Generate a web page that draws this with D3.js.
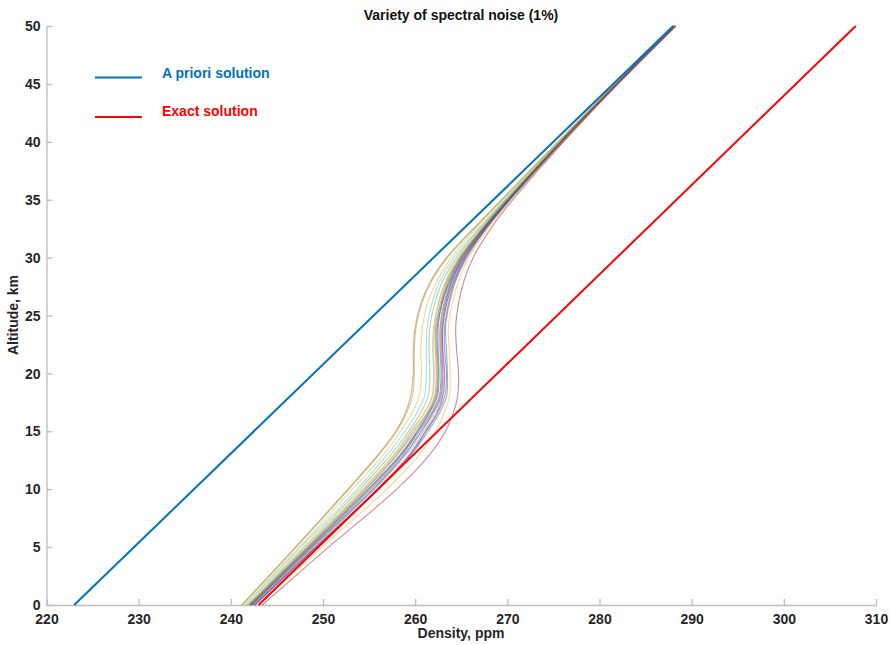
<!DOCTYPE html>
<html>
<head>
<meta charset="utf-8">
<script src="https://cdn.jsdelivr.net/npm/d3@7"></script>
<style>
  body { margin: 0; background: #fff; }
  svg { display: block; font-family: "Liberation Sans", Arial, sans-serif; }
</style>
</head>
<body>
<svg width="890" height="645"></svg>
<script>
// altitude grid (km) shared by the noisy retrievals
var altitudes = [0, 5, 10, 13, 15, 16.5, 18, 20, 22, 24, 26, 28, 30, 32.5, 35, 40, 45, 50];

// retrieved profiles, one per noise realisation (ppm)
var noiseRuns = [
  [241.2, 247.0, 252.7, 256.0, 257.9, 258.9, 259.5, 259.8, 259.8, 260.0, 260.6, 261.7, 263.4, 266.3, 269.4, 275.5, 281.7, 288.0],
  [241.2, 247.1, 252.8, 256.1, 258.0, 259.0, 259.7, 259.9, 259.9, 260.1, 260.7, 261.8, 263.5, 266.4, 269.4, 275.5, 281.7, 288.0],
  [241.4, 247.4, 253.2, 256.6, 258.4, 259.6, 260.4, 260.7, 260.6, 260.8, 261.3, 262.4, 263.9, 266.6, 269.6, 275.6, 281.8, 288.1],
  [241.6, 247.6, 253.7, 257.0, 258.9, 260.1, 261.0, 261.2, 261.2, 261.3, 261.8, 262.7, 264.2, 266.9, 269.8, 275.7, 281.8, 288.1],
  [241.8, 247.9, 254.0, 257.4, 259.3, 260.5, 261.4, 261.6, 261.5, 261.6, 262.1, 263.0, 264.5, 267.0, 269.8, 275.7, 281.8, 288.1],
  [241.9, 248.2, 254.4, 257.8, 259.6, 260.9, 261.8, 262.0, 261.9, 262.0, 262.5, 263.3, 264.7, 267.2, 269.9, 275.8, 281.8, 288.1],
  [241.9, 248.1, 254.3, 257.7, 259.5, 260.9, 261.9, 262.1, 262.0, 262.1, 262.5, 263.4, 264.8, 267.2, 270.0, 275.8, 281.8, 288.1],
  [242.0, 248.3, 254.6, 258.0, 259.8, 261.2, 262.1, 262.3, 262.2, 262.2, 262.7, 263.5, 264.9, 267.3, 270.0, 275.8, 281.9, 288.2],
  [242.0, 248.4, 254.7, 258.1, 260.0, 261.3, 262.2, 262.4, 262.3, 262.3, 262.8, 263.6, 264.9, 267.3, 270.0, 275.8, 281.9, 288.2],
  [242.1, 248.5, 254.9, 258.4, 260.2, 261.4, 262.3, 262.5, 262.4, 262.4, 262.9, 263.7, 265.0, 267.4, 270.1, 275.8, 281.9, 288.2],
  [242.2, 248.6, 255.0, 258.5, 260.3, 261.5, 262.4, 262.6, 262.5, 262.5, 262.9, 263.8, 265.1, 267.4, 270.1, 275.8, 281.9, 288.2],
  [242.2, 248.7, 255.2, 258.6, 260.4, 261.7, 262.6, 262.8, 262.7, 262.7, 263.1, 263.9, 265.2, 267.5, 270.1, 275.9, 281.9, 288.2],
  [242.3, 248.8, 255.4, 258.8, 260.6, 261.8, 262.7, 262.9, 262.8, 262.8, 263.2, 264.0, 265.2, 267.5, 270.2, 275.9, 281.9, 288.2],
  [242.3, 248.9, 255.5, 258.9, 260.7, 261.9, 262.8, 263.0, 262.9, 262.9, 263.3, 264.0, 265.3, 267.5, 270.2, 275.9, 281.9, 288.2],
  [242.4, 249.0, 255.6, 259.1, 260.9, 262.1, 262.9, 263.1, 263.0, 263.0, 263.4, 264.1, 265.3, 267.6, 270.2, 275.9, 281.9, 288.2],
  [242.5, 249.2, 255.9, 259.4, 261.1, 262.3, 263.0, 263.2, 263.0, 263.0, 263.4, 264.2, 265.4, 267.6, 270.2, 275.9, 281.9, 288.2],
  [242.6, 249.2, 256.0, 259.5, 261.2, 262.4, 263.2, 263.4, 263.2, 263.2, 263.6, 264.3, 265.5, 267.7, 270.3, 275.9, 281.9, 288.2],
  [242.6, 249.3, 256.1, 259.6, 261.4, 262.6, 263.4, 263.5, 263.4, 263.3, 263.7, 264.4, 265.6, 267.7, 270.3, 276.0, 282.0, 288.2],
  [243.0, 249.9, 256.9, 260.5, 262.2, 263.1, 263.7, 263.8, 263.7, 263.6, 264.0, 264.7, 265.8, 267.9, 270.4, 276.0, 282.0, 288.2],
  [243.4, 250.6, 258.0, 261.6, 263.3, 264.1, 264.6, 264.7, 264.5, 264.4, 264.7, 265.3, 266.3, 268.2, 270.6, 276.1, 282.0, 288.3]
];
var noiseColors = ['#D95319', '#77AC30', '#EDB120', '#4DBEEE', '#77AC30', '#4DBEEE', '#EDB120',
  '#D95319', '#77AC30', '#A2142F', '#0072BD', '#0072BD', '#D95319', '#7E2F8E', '#4DBEEE',
  '#A2142F', '#7E2F8E', '#0072BD', '#EDB120', '#A2142F'];

// straight reference profiles
var lineAlt = [0, 50];
var aprioriVals = [223, 288];
var exactVals = [243, 307.8];

var xTicks = [220, 230, 240, 250, 260, 270, 280, 290, 300, 310];
var yTicks = [0, 5, 10, 15, 20, 25, 30, 35, 40, 45, 50];

var svg = d3.select('svg');
var x = d3.scaleLinear().domain([220, 310]).range([46.5, 876]);
var y = d3.scaleLinear().domain([0, 50]).range([605, 26]);

var axisColor = '#bdbdbd';

var gx = svg.append('g')
    .attr('transform', 'translate(0,' + y(0) + ')')
    .call(d3.axisBottom(x).tickValues(xTicks).tickSizeInner(-6).tickSizeOuter(0).tickPadding(9));
var gy = svg.append('g')
    .attr('transform', 'translate(' + x(220) + ',0)')
    .call(d3.axisLeft(y).tickValues(yTicks).tickSizeInner(-6).tickSizeOuter(0).tickPadding(6));

[gx, gy].forEach(function(g) {
    g.select('.domain').style('stroke', axisColor).style('stroke-width', 1.3);
    g.selectAll('.tick line').style('stroke', axisColor).style('stroke-width', 1.3);
    g.selectAll('.tick text')
        .style('font-family', '"Liberation Sans", Arial, sans-serif')
        .style('font-size', '14px')
        .style('font-weight', 'bold')
        .style('fill', '#262626');
});
gy.selectAll('.tick text').attr('dy', '0.33em');

var line = d3.line()
    .x(function(d) { return x(d[0]); })
    .y(function(d) { return y(d[1]); })
    .curve(d3.curveCatmullRom.alpha(0.5));

noiseRuns.forEach(function(run, i) {
    svg.append('path')
        .datum(run.map(function(v, j) { return [v, altitudes[j]]; }))
        .attr('d', line)
        .style('fill', 'none')
        .style('stroke', noiseColors[i])
        .style('stroke-width', 1.1)
        .style('opacity', 0.5);
});

var straight = d3.line()
    .x(function(d) { return x(d[0]); })
    .y(function(d) { return y(d[1]); });

svg.append('path')
    .datum(exactVals.map(function(v, j) { return [v, lineAlt[j]]; }))
    .attr('d', straight)
    .style('fill', 'none')
    .style('stroke', '#ff0000')
    .style('stroke-width', 2);

svg.append('path')
    .datum(aprioriVals.map(function(v, j) { return [v, lineAlt[j]]; }))
    .attr('d', straight)
    .style('fill', 'none')
    .style('stroke', '#0072BD')
    .style('stroke-width', 2);

// legend
var legend = [
    { label: 'A priori solution', color: '#0072BD', ly: 77.5, ty: 73 },
    { label: 'Exact solution', color: '#ff0000', ly: 117, ty: 111 }
];
legend.forEach(function(d) {
    svg.append('line')
        .attr('x1', 95).attr('x2', 142)
        .attr('y1', d.ly).attr('y2', d.ly)
        .style('stroke', d.color)
        .style('stroke-width', 2);
    svg.append('text')
        .attr('x', 162).attr('y', d.ty)
        .attr('dy', '0.36em')
        .style('font-size', '14px')
        .style('font-weight', 'bold')
        .style('fill', d.color)
        .text(d.label);
});

svg.append('text')
    .attr('x', 461).attr('y', 20)
    .attr('text-anchor', 'middle')
    .style('font-size', '14px')
    .style('font-weight', 'bold')
    .style('fill', '#111')
    .text('Variety of spectral noise (1%)');

svg.append('text')
    .attr('x', 461).attr('y', 638)
    .attr('text-anchor', 'middle')
    .style('font-size', '14px')
    .style('font-weight', 'bold')
    .style('fill', '#262626')
    .text('Density, ppm');

svg.append('text')
    .attr('transform', 'translate(18,315) rotate(-90)')
    .attr('text-anchor', 'middle')
    .style('font-size', '14px')
    .style('font-weight', 'bold')
    .style('fill', '#262626')
    .text('Altitude, km');
</script>
</body>
</html>
